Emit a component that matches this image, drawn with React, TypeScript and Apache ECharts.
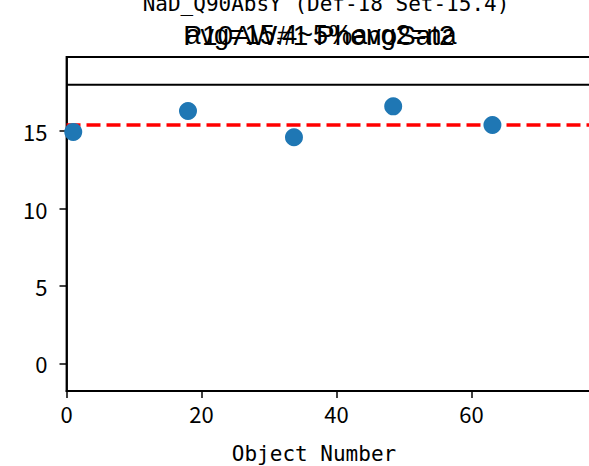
import React, { useEffect, useRef } from "react";
import * as echarts from "echarts";

const TITLE_1 = "NaD_Q90AbsY (Def-18 Set-15.4)";
const TITLE_2A = "P10AW#1 PhenoSat2";
const TITLE_2B = "avg=15.4~5%avg2=na";
const X_LABEL = "Object Number";

const OBJ_X = [1, 18, 33.7, 48.4, 63.1];
const OBJ_Y = [14.95, 16.3, 14.6, 16.6, 15.4];
const DEF_VALUE = 18;
const AVG_VALUE = 15.4;

const X_MIN = 0;
const X_MAX = 80;
const Y_MIN = -1.79;
const Y_MAX = 19.79;
const Y_TICKS = [0, 5, 10, 15];
const X_TICKS = [0, 20, 40, 60];

const MONO = '"DejaVu Sans Mono", monospace';
const TICK_FONT = '"Noto Sans CJK SC", "DejaVu Sans", sans-serif';

export default function App() {
  const ref = useRef<HTMLDivElement>(null);
  useEffect(() => {
    if (!ref.current) return;
    const chart = echarts.init(ref.current, null, { renderer: "svg" });
    chart.setOption({
      animation: false,
      backgroundColor: "#ffffff",
      grid: {
        left: 66.5,
        top: 57,
        width: 540,
        height: 334,
        show: true,
        borderColor: "#000",
        borderWidth: 1.8,
        containLabel: false,
        outerBoundsMode: "none",
      },
      xAxis: {
        type: "value",
        min: X_MIN,
        max: X_MAX,
        interval: 20,
        axisLine: { show: true, onZero: false, lineStyle: { color: "#000", width: 1.8 } },
        axisTick: { show: true, inside: false, length: 7, lineStyle: { color: "#000", width: 1.5 }, customValues: X_TICKS },
        axisLabel: {
          color: "#000",
          fontFamily: TICK_FONT,
          fontSize: 22,
          margin: 11,
          customValues: X_TICKS,
        },
        splitLine: { show: false },
      },
      yAxis: {
        type: "value",
        min: Y_MIN,
        max: Y_MAX,
        axisLine: { show: true, onZero: false, lineStyle: { color: "#000", width: 1.8 } },
        axisTick: { show: true, inside: false, length: 7, lineStyle: { color: "#000", width: 1.5 }, customValues: Y_TICKS },
        axisLabel: {
          color: "#000",
          fontFamily: TICK_FONT,
          fontSize: 22,
          margin: 19,
          customValues: Y_TICKS,
        },
        splitLine: { show: false },
      },
      series: [
        {
          type: "line",
          data: [
            [X_MIN, DEF_VALUE],
            [X_MAX, DEF_VALUE],
          ],
          showSymbol: false,
          symbol: "none",
          lineStyle: { color: "#000", width: 2 },
          z: 1,
          silent: true,
        },
        {
          type: "line",
          data: [
            [X_MIN, AVG_VALUE],
            [X_MAX, AVG_VALUE],
          ],
          showSymbol: false,
          symbol: "none",
          lineStyle: { color: "#ff0000", width: 3.5, type: [14, 6], cap: "butt" },
          z: 2,
          silent: true,
        },
        {
          type: "scatter",
          data: OBJ_X.map((x, i) => [x, OBJ_Y[i]]),
          symbol: "circle",
          symbolSize: 18,
          itemStyle: { color: "#1f77b4", opacity: 1 },
          z: 5,
        },
      ],
      graphic: [
        {
          type: "text",
          x: 326,
          y: 4,
          style: {
            text: TITLE_1,
            fontFamily: MONO,
            fontSize: 21,
            fill: "#000",
            align: "center",
            verticalAlign: "middle",
          },
        },
        {
          type: "text",
          x: 319,
          y: 35,
          style: {
            text: TITLE_2A,
            fontFamily: '"Liberation Sans", Arial, sans-serif',
            fontSize: 28,
            fill: "#000",
            align: "center",
            verticalAlign: "middle",
          },
        },
        {
          type: "text",
          x: 321,
          y: 35,
          style: {
            text: TITLE_2B,
            fontFamily: '"Liberation Sans", Arial, sans-serif',
            fontSize: 27,
            fill: "#000",
            align: "center",
            verticalAlign: "middle",
          },
        },
        {
          type: "text",
          x: 314,
          y: 454,
          style: {
            text: X_LABEL,
            fontFamily: MONO,
            fontSize: 21,
            fill: "#000",
            align: "center",
            verticalAlign: "middle",
          },
        },
      ],
    });
    return () => chart.dispose();
  }, []);
  return (
    <div
      ref={ref}
      style={{ position: "fixed", left: 0, top: 0, width: 589, height: 466, background: "#fff" }}
    />
  );
}
